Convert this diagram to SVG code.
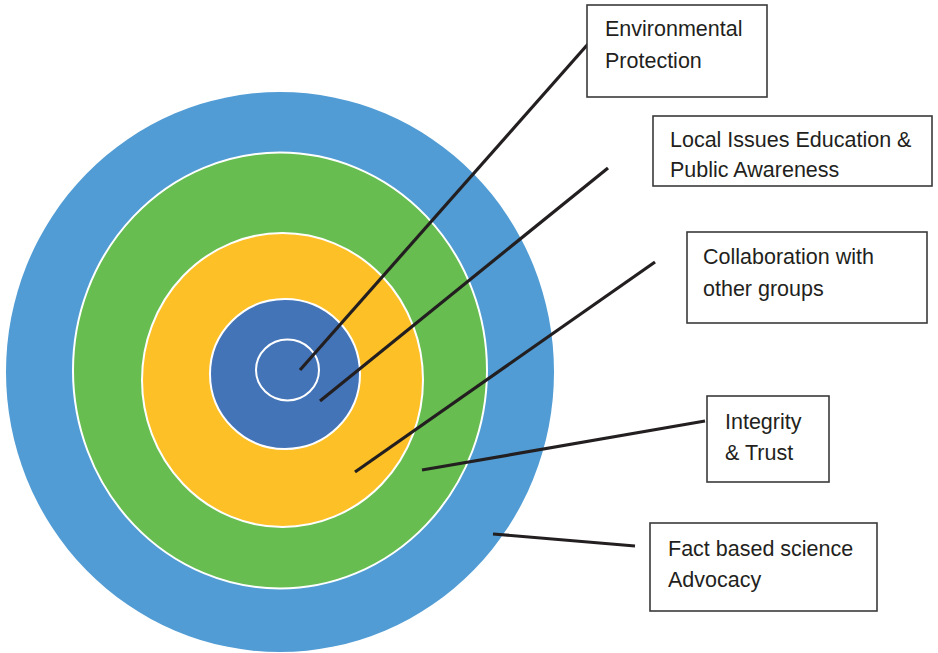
<svg xmlns="http://www.w3.org/2000/svg" width="938" height="653" viewBox="0 0 938 653">
<style>
.box{fill:#fff;stroke:#3a3a3a;stroke-width:1.6}
.lbl{font-family:"Liberation Sans",Arial,sans-serif;font-size:21.5px;fill:#231f20}
.ring{stroke:#fff;stroke-width:2}
.conn{stroke:#231f20;stroke-width:3.2;fill:none}
</style>
<rect width="938" height="653" fill="#fff"/>
<g id="target">
<ellipse id="ring-outer" cx="280" cy="372" rx="274" ry="280" fill="#519cd4"/>
<ellipse id="ring-green" class="ring" cx="280" cy="370.5" rx="207" ry="218" fill="#68bd50"/>
<ellipse id="ring-yellow" class="ring" cx="282.5" cy="380" rx="140.5" ry="147" fill="#fdc127"/>
<ellipse id="ring-blue" class="ring" cx="285" cy="374" rx="75" ry="75" fill="#4474b8"/>
<ellipse id="ring-core" class="ring" cx="287.5" cy="370" rx="31.5" ry="30.5" fill="#4474b8"/>
</g>
<g id="connectors">
<line class="conn" x1="300" y1="370" x2="588" y2="44"/>
<line class="conn" x1="320" y1="401" x2="608" y2="168"/>
<line class="conn" x1="355" y1="472" x2="655" y2="262"/>
<line class="conn" x1="422" y1="470" x2="705" y2="421"/>
<line class="conn" x1="493" y1="534" x2="635" y2="546"/>
</g>
<g id="env-protection">
<rect class="box" x="587" y="5" width="180" height="92"/>
<text class="lbl" x="605" y="36">Environmental</text>
<text class="lbl" x="605" y="68">Protection</text>
</g>
<g id="local-issues">
<rect class="box" x="653" y="116" width="279" height="70"/>
<text class="lbl" x="670" y="147">Local Issues Education &amp;</text>
<text class="lbl" x="670" y="177">Public Awareness</text>
</g>
<g id="collaboration">
<rect class="box" x="687" y="232" width="240" height="91"/>
<text class="lbl" x="703" y="264">Collaboration with</text>
<text class="lbl" x="703" y="296">other groups</text>
</g>
<g id="integrity">
<rect class="box" x="707" y="396" width="122" height="86"/>
<text class="lbl" x="725" y="429">Integrity</text>
<text class="lbl" x="725" y="460">&amp; Trust</text>
</g>
<g id="fact-based">
<rect class="box" x="650" y="523" width="227" height="88"/>
<text class="lbl" x="668" y="556">Fact based science</text>
<text class="lbl" x="668" y="587">Advocacy</text>
</g>
</svg>
